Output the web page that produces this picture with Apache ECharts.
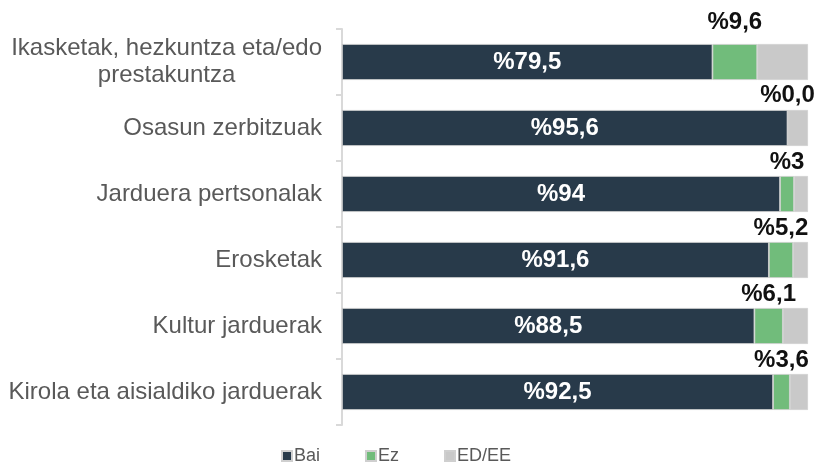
<!DOCTYPE html>
<html>
<head>
<meta charset="utf-8">
<script src="https://cdn.jsdelivr.net/npm/echarts@6/dist/echarts.min.js"></script>
<style>html,body{margin:0;padding:0;background:#fff;}#c{width:818px;height:463px;}</style>
</head>
<body>
<div id="c"></div>
<script>
var categories = [
  'Ikasketak, hezkuntza eta/edo\nprestakuntza',
  'Osasun zerbitzuak',
  'Jarduera pertsonalak',
  'Erosketak',
  'Kultur jarduerak',
  'Kirola eta aisialdiko jarduerak'
];
var seriesNames = ['Bai', 'Ez', 'ED/EE'];
var bai = [79.5, 95.6, 94, 91.6, 88.5, 92.5];
var ez = [9.6, 0, 3, 5.2, 6.1, 3.6];
var eded = [10.9, 4.4, 3, 3.2, 5.4, 3.9];

function fmt(v) {
  return '%' + (v === 0 ? '0,0' : String(v).replace('.', ','));
}

var FONT = 'Liberation Sans, Arial';
var chart = echarts.init(document.getElementById('c'));
var border = { borderColor: '#cfcfcf', borderWidth: 0.8 };
chart.setOption({
  animation: false,
  grid: { left: 342, right: 10, top: 29, bottom: 38 },
  xAxis: { type: 'value', min: 0, max: 100, show: false },
  yAxis: {
    type: 'category',
    inverse: true,
    data: categories,
    axisLine: { lineStyle: { color: '#d9d9d9', width: 2 } },
    axisTick: { show: true, length: 6, lineStyle: { color: '#d9d9d9', width: 2 } },
    axisLabel: {
      margin: 20,
      fontFamily: FONT,
      fontSize: 24,
      color: '#595959',
      lineHeight: 27,
      formatter: function (v) {
        return v.split('\n').map(function (l) { return '{c|' + l + '}'; }).join('\n');
      },
      rich: { c: { align: 'center', fontSize: 24, color: '#595959', fontFamily: FONT, lineHeight: 27 } }
    }
  },
  legend: {
    left: 276, top: 442,
    itemWidth: 10, itemHeight: 10, itemGap: 45,
    icon: 'rect',
    textStyle: { fontFamily: FONT, fontSize: 18, color: '#595959', padding: [0, 0, 0, -3] },
    data: seriesNames
  },
  series: [
    {
      name: seriesNames[0], type: 'bar', stack: 't', data: bai, barWidth: 36,
      itemStyle: Object.assign({ color: '#283a4a' }, border),
      label: { show: true, position: 'inside', color: '#fff', fontWeight: 'bold', fontSize: 24, fontFamily: FONT,
        formatter: function (p) { return fmt(p.value); } }
    },
    {
      name: seriesNames[1], type: 'bar', stack: 't', barWidth: 36,
      data: ez.map(function (v, i) { return i === 0 ? { value: v, label: { offset: [0, -8] } } : v; }),
      itemStyle: Object.assign({ color: '#71bc7b' }, border),
      label: { show: true, position: 'top', distance: 2, color: '#111', fontWeight: 'bold', fontSize: 24, fontFamily: FONT,
        formatter: function (p) { return fmt(p.value); } }
    },
    {
      name: seriesNames[2], type: 'bar', stack: 't', data: eded, barWidth: 36,
      itemStyle: Object.assign({ color: '#c9c9c9' }, border)
    }
  ]
});
</script>
</body>
</html>
